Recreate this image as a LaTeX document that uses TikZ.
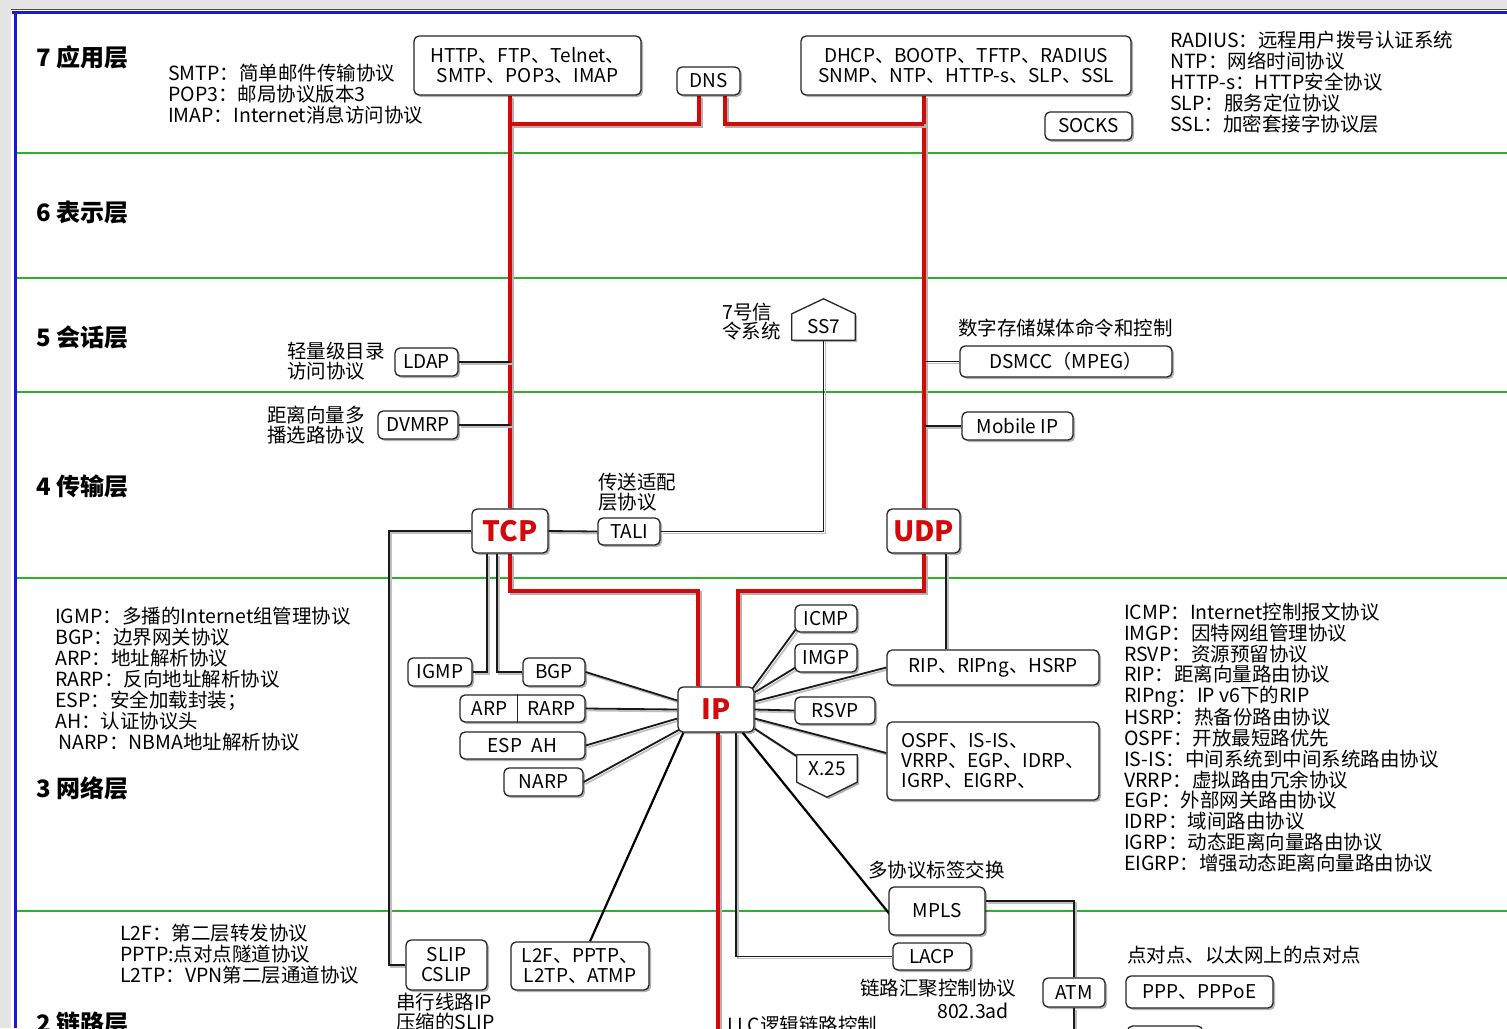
\documentclass[tikz,border=0pt]{standalone}
\usepackage{fontspec}
\setmainfont{Noto Sans CJK SC}
\usetikzlibrary{calc,shadows}
\definecolor{myred}{HTML}{D20A0A}
\definecolor{mygreen}{HTML}{2DB02D}
\definecolor{myblue}{HTML}{1A1AD0}
\pgfdeclarelayer{bg}
\pgfsetlayers{bg,main}
\newcommand\fsz[2]{\fontsize{#1}{#2}\selectfont}
\tikzset{
 box/.style={draw=black!85, line width=1.3pt, rounded corners=5pt, fill=white, inner sep=0pt, align=center, font=\fsz{19}{20}, drop shadow={shadow xshift=2pt,shadow yshift=-2pt,fill=black,opacity=0.3}},
 bigbox/.style={box, font=\fsz{28}{28}\bfseries, text=myred},
 plain/.style={inner sep=0pt, align=center, font=\fsz{19}{20}},
 note/.style={inner sep=0pt, align=left, font=\fsz{19.5}{21}, anchor=west},
 layer/.style={inner sep=0pt, anchor=west, font=\fsz{24}{26}\bfseries},
 redln/.style={draw=myred, line width=4pt, preaction={draw=black!30, line width=4pt, transform canvas={shift={(2pt,-2pt)}}}},
 blkln/.style={draw=black!90, line width=1.8pt, preaction={draw=black!25, line width=1.8pt, transform canvas={shift={(2pt,-2pt)}}}},
 grn/.style={draw=mygreen, line width=2pt},
 shp/.style={fill=white, draw=black!85, line width=1.3pt, line join=round, drop shadow={shadow xshift=2pt,shadow yshift=-2pt,fill=black,opacity=0.3}},
}
\begin{document}
\begin{tikzpicture}[x=1pt,y=-1pt]
\useasboundingbox (0,0) rectangle (1507,1028);
\clip (0,0) rectangle (1507,1028);

% ---------- layer labels
\node[layer] (l7) at (36,57) {7 应用层};
\node[layer] (l6) at (36,213) {6 表示层};
\node[layer] (l5) at (36,337) {5 会话层};
\node[layer] (l4) at (36,486) {4 传输层};
\node[layer] (l3) at (36,788) {3 网络层};
\node[layer] (l2) at (36,1023) {2 链路层};

% ---------- notes
\node[note] (n7a) at (168,94) {SMTP：简单邮件传输协议\\POP3：邮局协议版本3\\IMAP：Internet消息访问协议};
\node[note] (n7b) at (1170,82) {RADIUS：远程用户拨号认证系统\\NTP：网络时间协议\\HTTP-s：HTTP安全协议\\SLP：服务定位协议\\SSL：加密套接字协议层};
\node[note] (n3a) at (55,679) {IGMP：多播的Internet组管理协议\\BGP：边界网关协议\\ARP：地址解析协议\\RARP：反向地址解析协议\\ESP：安全加载封装；\\AH：认证协议头\\\,NARP：NBMA地址解析协议};
\node[note, font=\fsz{19.5}{20.75}] (n3b) at (1124,737.5) {ICMP：Internet控制报文协议\\IMGP：因特网组管理协议\\RSVP：资源预留协议\\RIP：距离向量路由协议\\RIPng：IP v6下的RIP\\HSRP：热备份路由协议\\OSPF：开放最短路优先\\IS-IS：中间系统到中间系统路由协议\\VRRP：虚拟路由冗余协议\\EGP：外部网关路由协议\\IDRP：域间路由协议\\IGRP：动态距离向量路由协议\\EIGRP：增强动态距离向量路由协议};
\node[note] (n2a) at (120,954) {L2F：第二层转发协议\\PPTP:点对点隧道协议\\L2TP：VPN第二层通道协议};

% ---------- application layer boxes
\node[box, minimum width=227, minimum height=59] (http) at (527.5,65.5) {HTTP、FTP、Telnet、\\SMTP、POP3、IMAP};
\node[box, minimum width=63, minimum height=28] (dns) at (708.5,81) {DNS};
\node[box, minimum width=330, minimum height=59] (dhcp) at (966,65.5) {DHCP、BOOTP、TFTP、RADIUS\\SNMP、NTP、HTTP-s、SLP、SSL};
\node[box, minimum width=87, minimum height=28] (socks) at (1088.5,126) {SOCKS};

% ---------- session / transport
\node[box, minimum width=63, minimum height=28] (ldap) at (426.5,362) {LDAP};
\node[note, font=\fsz{19.5}{20}] (ldapl) at (287,361) {轻量级目录\\访问协议};
\node[box, minimum width=80, minimum height=28] (dvmrp) at (418,425) {DVMRP};
\node[note, font=\fsz{19.5}{20}] (dvmrpl) at (267,425) {距离向量多\\播选路协议};
\node[plain, minimum width=63, minimum height=26] (ss7) at (823.5,327) {SS7};
\node[note, font=\fsz{19.5}{19}] (ss7l) at (722,322) {7号信\\令系统};
\node[box, minimum width=212, minimum height=31] (dsmcc) at (1066,361.5) {DSMCC（MPEG）};
\node[note] (dsmccl) at (958,328) {数字存储媒体命令和控制};
\node[box, minimum width=111, minimum height=28] (mobip) at (1017.5,426) {Mobile IP};
\node[bigbox, minimum width=76, minimum height=44] (tcp) at (510,531) {TCP};
\node[bigbox, minimum width=73, minimum height=44] (udp) at (923.5,531) {UDP};
\node[box, minimum width=62, minimum height=27] (tali) at (629,531.5) {TALI};
\node[note, font=\fsz{19.5}{20}] (talil) at (598,492) {传送适配\\层协议};

% ---------- network layer
\node[bigbox, minimum width=76, minimum height=45] (ip) at (716,709.5) {IP};
\node[box, minimum width=64, minimum height=28] (igmp) at (440,672) {IGMP};
\node[box, minimum width=62, minimum height=28] (bgp) at (554,672) {BGP};
\node[box, minimum width=125, minimum height=27] (arp) at (522.5,708.5) {};
\draw[black!85, line width=1.3pt] ($(arp.north west)+(58,0)$) -- ($(arp.south west)+(58,0)$);
\node[plain] (arpt) at (489.5,708.5) {ARP};
\node[plain] (rarpt) at (551.5,708.5) {RARP};
\node[box, minimum width=125, minimum height=27] (esp) at (522.5,745.5) {ESP\enspace AH};
\node[box, minimum width=79, minimum height=28] (narp) at (543.5,782) {NARP};
\node[box, minimum width=62, minimum height=27] (icmp) at (826,618.5) {ICMP};
\node[box, minimum width=62, minimum height=28] (imgp) at (826,658) {IMGP};
\node[box, minimum width=212, minimum height=35] (rip) at (993,667.5) {RIP、RIPng、HSRP};
\node[box, minimum width=80, minimum height=27] (rsvp) at (835,710.5) {RSVP};
\node[box, minimum width=212, minimum height=78, align=left] (ospf) at (993,761) {OSPF、IS-IS、\\VRRP、EGP、IDRP、\\IGRP、EIGRP、};
\node[plain, minimum width=60, minimum height=27] (x25) at (827,768.5) {X.25};
\node[box, minimum width=96, minimum height=48] (mpls) at (937,911) {MPLS};
\node[note] (mplsl) at (868,870) {多协议标签交换};

% ---------- link layer
\node[box, minimum width=81, minimum height=50] (slip) at (446.5,965) {SLIP\\CSLIP};
\node[note, font=\fsz{19.5}{20}, anchor=north west] (slipl) at (396,993) {串行线路IP\\压缩的SLIP};
\node[box, minimum width=138, minimum height=48] (l2f) at (580,966) {L2F、PPTP、\\L2TP、ATMP};
\node[box, minimum width=78, minimum height=27] (lacp) at (932,956.5) {LACP};
\node[note] (lacpl) at (860,988) {链路汇聚控制协议};
\node[note] (lacpn) at (937,1011) {802.3ad};
\node[note] (llc) at (727,1025) {LLC逻辑链路控制};
\node[box, minimum width=62, minimum height=29] (atm) at (1074,992.5) {ATM};
\node[note] (pppl) at (1127,955) {点对点、以太网上的点对点};
\node[box, minimum width=147, minimum height=32] (ppp) at (1199.5,992) {PPP、PPPoE};
\node[box, minimum width=75, minimum height=30] (next) at (1165,1041) {};

\begin{pgfonlayer}{bg}
\fill[white] (0,0) rectangle (1507,1028);
% window frame
\fill[black!10] (0,0) rectangle (1507,9);
\fill[black!10] (0,0) rectangle (11,1028);
\draw[black!70, line width=1pt] (11,9) -- (1507,9);
\draw[myblue, line width=3pt] (12,12) -- (1507,12);
\draw[myblue, line width=3pt] (15,12) -- (15,1028);
% layer separators
\foreach \yy in {153,278,392,578,911} \draw[grn] (17,\yy) -- (1507,\yy);

% red main paths
\draw[redln] (tcp.north) -- (tcp.north |- http.south);
\draw[redln] (udp.north) -- (udp.north |- dhcp.south);
\coordinate (dnsl) at ($(dns.south)+(-10,0)$);
\coordinate (dnsr) at ($(dns.south)+(16,0)$);
\draw[redln] (dnsl) -- ++(0,28) -- ($(tcp.north |- http.south)+(0,28)$);
\draw[redln] (dnsr) -- ++(0,28) -- ($(udp.north |- dhcp.south)+(0,28)$);
\draw[redln] (tcp.south) -- ++(0,37) -| ($(ip.north)+(-18,0)$);
\draw[redln] (udp.south) -- ++(0,37) -| ($(ip.north)+(22,0)$);
\draw[redln] ($(ip.south)+(2,0)$) -- ++(0,320);

% black connectors
\draw[blkln] (ldap.east) -- (ldap.east -| tcp.north);
\draw[blkln] (dvmrp.east) -- (dvmrp.east -| tcp.north);
\draw[blkln] (dsmcc.west) -- (dsmcc.west -| udp.north);
\draw[blkln] (mobip.west) -- (mobip.west -| udp.north);
\draw[blkln] (ss7.south) |- (tali.east);
\draw[blkln] (tcp.east) -- (tali.west);
\draw[blkln] (tcp.west) -- ++(-82,0) |- (slip.west);
\draw[blkln] ($(tcp.south)+(-23,0)$) |- (igmp.east);
\draw[blkln] ($(tcp.south)+(-13,0)$) |- (bgp.west);
\coordinate (udpr) at ($(udp.south east)+(-15,0)$);
\draw[blkln] (udpr) -- (udpr |- rip.north);
\draw[blkln] (bgp.east) -- ($(ip.west)+(0,-9)$);
\draw[blkln] (arp.east) -- (ip.west);
\draw[blkln] (esp.east) -- ($(ip.west)+(0,9)$);
\draw[blkln] (narp.east) -- ($(ip.south west)+(2,-3)$);
\draw[blkln] ($(ip.north east)+(-2,2)$) -- ($(icmp.west)+(2,10)$);
\draw[blkln] ($(ip.north east)+(0,6)$) -- ($(imgp.west)+(2,9)$);
\draw[blkln] ($(ip.east)+(0,-8)$) -- (rip.west);
\draw[blkln] (ip.east) -- (rsvp.west);
\draw[blkln] ($(ip.east)+(0,9)$) -- ($(ospf.west)+(0,-8)$);
\draw[blkln] ($(ip.south east)+(0,-4)$) -- ($(x25.north west)+(4,4)$);
\draw[line width=2.2pt, black] ($(ip.south east)+(-12,0)$) -- ($(mpls.west)+(2,4)$);
\draw[line width=2.2pt, black] ($(ip.south west)+(6,0)$) -- ($(l2f.north)+(10,0)$);
\draw[blkln] ($(ip.south)+(20,0)$) |- (lacp.west);
\draw[blkln] ($(mpls.north east)+(0,15)$) -| (atm.north);
\draw[blkln] (atm.south) -- ++(0,40);

% pentagon shapes
\draw[shp] (ss7.south west) -- (ss7.south east) -- (ss7.north east) -- ($(ss7.north)+(0,-15)$) -- (ss7.north west) -- cycle;
\draw[shp] (x25.north west) -- (x25.north east) -- (x25.south east) -- ($(x25.south)+(0,15)$) -- (x25.south west) -- cycle;
\end{pgfonlayer}
\end{tikzpicture}
\end{document}
